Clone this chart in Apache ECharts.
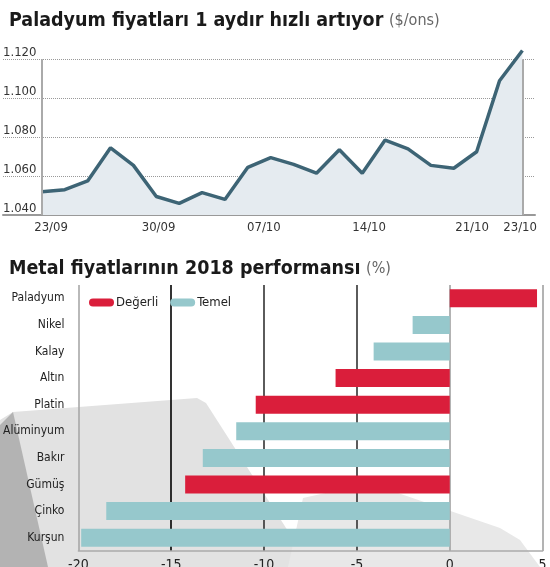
<!DOCTYPE html>
<html>
<head>
<meta charset="utf-8">
<script src="https://cdn.jsdelivr.net/npm/echarts@6/dist/echarts.min.js"></script>
<style>
  html, body { margin: 0; padding: 0; background: #fff; }
  #chart { width: 550px; height: 567px; }
</style>
</head>
<body>
<div id="chart"></div>
<script>
// Paladyum fiyatı, işlem günleri 24/09 - 23/10 ($/ons)
const prices = [1052, 1053, 1057.5, 1074.5, 1065.5, 1049.5, 1046, 1051.5, 1048, 1064.5, 1069.5,
  1066, 1061.5, 1073.5, 1061.5, 1078.5, 1074, 1065.5, 1064, 1072.5, 1109, 1124.5];
const dateLabels = ['23/09', '30/09', '07/10', '14/10', '21/10', '23/10'];
const datePos = [0.4, 5.1, 9.7, 14.3, 18.8, 20.9];

// 2018 performansı (%)
const metals = ['Paladyum', 'Nikel', 'Kalay', 'Altın', 'Platin', 'Alüminyum', 'Bakır', 'Gümüş', 'Çinko', 'Kurşun'];
const perf = [4.7, -2.0, -4.1, -6.15, -10.45, -11.5, -13.3, -14.25, -18.5, -19.85];
const kind = ['D', 'T', 'T', 'D', 'D', 'T', 'T', 'D', 'T', 'T'];

const font = "'Liberation Sans Narrow', 'DejaVu Sans Condensed', Roboto, sans-serif";
const red = '#da1e3b';
const teal = '#96c8cc';

const chart = echarts.init(document.getElementById('chart'));

const pill = 'path://M4,0 H21 A4,4 0 0 1 21,8 H4 A4,4 0 0 1 4,0 Z';

function titleText(bold, unit) {
  return {
    text: '{a|' + bold + '} {b|' + unit + '}',
    textStyle: {
      rich: {
        a: { fontSize: 19.5, fontWeight: 'bold', color: '#1a1a1a', fontFamily: font },
        b: { fontSize: 16, fontWeight: 'normal', color: '#666', fontFamily: font }
      }
    }
  };
}

chart.setOption({
  animation: false,
  textStyle: { fontFamily: font },
  title: [
    Object.assign({ left: 4, top: 6 }, titleText('Paladyum fiyatları 1 aydır hızlı artıyor', '($/ons)')),
    Object.assign({ left: 4, top: 254 }, titleText('Metal fiyatlarının 2018 performansı', '(%)'))
  ],
  // arka plandaki gümüş külçe fotoğrafının kaba taslağı
  graphic: [
    { type: 'polygon', z: -10, silent: true,
      shape: { points: [[13, 412], [197, 398], [206, 403], [311, 567], [0, 567], [0, 420]] },
      style: { fill: '#e2e2e2' } },
    { type: 'polygon', z: -10, silent: true,
      shape: { points: [[0, 425], [13, 412], [48, 567], [0, 567]] },
      style: { fill: '#b3b3b3' } },
    { type: 'polygon', z: -10, silent: true,
      shape: { points: [[303, 498], [330, 492], [395, 492], [500, 528], [520, 540], [540, 567], [288, 567]] },
      style: { fill: '#e8e8e8' } }
  ],
  legend: {
    left: 84, top: 291,
    itemWidth: 25, itemHeight: 8, itemGap: 12,
    textStyle: { fontSize: 13, color: '#222', padding: [0, 0, 0, -3] },
    data: [{ name: 'Değerli', icon: pill }, { name: 'Temel', icon: pill }]
  },
  grid: [
    { left: 3, right: 15, top: 59.3, bottom: 352, outerBoundsMode: 'none' },
    { left: 78.4, right: 7.4, top: 285, height: 266, outerBoundsMode: 'none' }
  ],
  xAxis: [
    {
      gridIndex: 0, type: 'value', min: -1.7, max: 21.55,
      axisLine: { show: true, lineStyle: { color: '#999', width: 2 } },
      axisTick: { show: false },
      splitLine: { show: false },
      axisLabel: {
        customValues: datePos,
        formatter: v => dateLabels[datePos.indexOf(v)] || '',
        fontSize: 13, color: '#333', margin: 6
      }
    },
    {
      gridIndex: 1, type: 'value', min: -20, max: 5, interval: 5,
      axisLine: { show: true, lineStyle: { color: '#aaa', width: 1.5 } },
      axisTick: { show: false },
      splitLine: {
        show: true,
        lineStyle: { color: ['#a8a8a8', '#000', '#333', '#333', '#a0a0a0', '#a0a0a0'], width: 1.6 }
      },
      axisLabel: { fontSize: 14, color: '#222', margin: 7 }
    }
  ],
  yAxis: [
    {
      gridIndex: 0, type: 'value', min: 1040, max: 1120, interval: 20,
      axisLine: { show: false },
      axisTick: { show: false },
      splitLine: { lineStyle: { color: '#999', type: 'dotted', width: 1 } },
      axisLabel: {
        inside: true, margin: 0, verticalAlign: 'bottom',
        fontSize: 13, color: '#333',
        formatter: v => (v / 1000).toFixed(3)
      }
    },
    {
      gridIndex: 1, type: 'category', data: metals, inverse: true,
      axisLine: { show: false },
      axisTick: { show: false },
      axisLabel: { fontSize: 12, color: '#222', margin: 14 }
    }
  ],
  series: [
    {
      type: 'line', xAxisIndex: 0, yAxisIndex: 0,
      data: prices.map((p, i) => [i, p]),
      symbol: 'none', clip: false,
      lineStyle: { color: '#3d6475', width: 3.5 },
      areaStyle: { color: '#e5ebf0', opacity: 1 },
      markLine: {
        silent: true, symbol: 'none', label: { show: false },
        lineStyle: { color: '#aaa', width: 2, type: 'solid' },
        data: [{ xAxis: 0 }, { xAxis: prices.length - 1 }]
      },
      z: 3
    },
    {
      name: 'Değerli', type: 'bar', xAxisIndex: 1, yAxisIndex: 1,
      data: perf.map((v, i) => kind[i] === 'D' ? v : null),
      barWidth: 18, barGap: '-100%',
      itemStyle: { color: red }
    },
    {
      name: 'Temel', type: 'bar', xAxisIndex: 1, yAxisIndex: 1,
      data: perf.map((v, i) => kind[i] === 'T' ? v : null),
      barWidth: 18, barGap: '-100%',
      itemStyle: { color: teal }
    }
  ]
});
</script>
</body>
</html>
